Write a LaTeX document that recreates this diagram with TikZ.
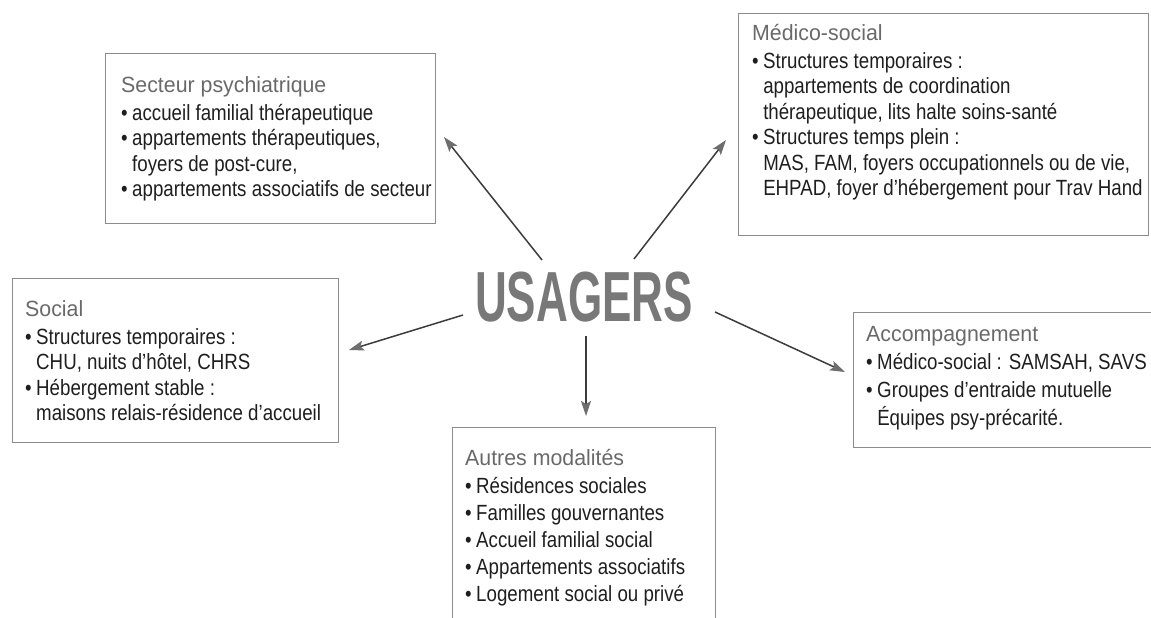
\documentclass[tikz,border=0pt]{standalone}
\usepackage{fontspec}
\setmainfont{Liberation Sans}[FakeStretch=0.85]
\newfontfamily\titlefont{Liberation Sans}[FakeStretch=0.97]
\newfontfamily\bigfont{Liberation Sans Bold}[FakeStretch=0.62]
\usetikzlibrary{arrows.meta}
\definecolor{titlegray}{RGB}{105,105,105}
\definecolor{bodyink}{RGB}{30,30,30}
\definecolor{boxline}{RGB}{140,140,140}
\definecolor{arrowline}{RGB}{60,60,60}
\definecolor{arrowhead}{RGB}{110,110,110}
\definecolor{bigink}{RGB}{120,120,120}
\newcommand{\ttl}[1]{\rule{0pt}{17pt}{\titlefont\color{titlegray}#1}}
\newcommand{\bul}{•\hspace{4.5pt}}
\newcommand{\ind}{\hphantom{•}\hspace{4.5pt}}
\tikzset{
  panel/.style={draw=boxline, line width=0.8pt, anchor=north west, inner sep=0pt, outer sep=0pt},
  paneltext/.style={anchor=north west, inner sep=0pt, align=left, text=bodyink,
    font=\fontsize{22}{25.5}\selectfont},
  link/.style={draw=arrowline, line width=1.5pt,
    -{Stealth[length=15pt,width=10pt,inset=3pt,color=arrowhead,fill=arrowhead]}},
}
\begin{document}
\begin{tikzpicture}[x=1pt,y={(0pt,-1pt)}]
\useasboundingbox (0,0) rectangle (1151,618);

% boxes
\node[panel, minimum width=330pt, minimum height=170pt] (psyBox) at (105,53) {};
\node[panel, minimum width=410pt, minimum height=222pt] (medBox) at (738,13) {};
\node[panel, minimum width=326pt, minimum height=164pt] (socBox) at (12,278) {};
\node[panel, minimum width=298pt, minimum height=135pt] (accBox) at (853,312) {};
\node[panel, minimum width=263pt, minimum height=200pt] (autBox) at (452,427) {};

% texts
\node[paneltext] (psyText) at (121,75) {\ttl{Secteur psychiatrique}\\[2.5pt]
\bul accueil familial thérapeutique\\
\bul appartements thérapeutiques,\\
\ind foyers de post-cure,\\
\bul appartements associatifs de secteur};

\node[paneltext] (medText) at (752,23) {\ttl{Médico-social}\\[2.5pt]
\bul Structures temporaires~:\\
\ind appartements de coordination\\
\ind thérapeutique, lits halte soins-santé\\
\bul Structures temps plein~:\\
\ind MAS, FAM, foyers occupationnels ou de vie,\\
\ind EHPAD, foyer d’hébergement pour Trav Hand};

\node[paneltext] (socText) at (25,299) {\ttl{Social}\\[2.5pt]
\bul Structures temporaires~:\\
\ind CHU, nuits d’hôtel, CHRS\\
\bul Hébergement stable~:\\
\ind maisons relais-résidence d’accueil};

\node[paneltext, font=\fontsize{22}{28}\selectfont] (accText) at (866,324) {\ttl{Accompagnement}\\[0pt]
\bul Médico-social~: SAMSAH, SAVS\\
\bul Groupes d’entraide mutuelle\\
\ind Équipes psy-précarité.};

\node[paneltext, font=\fontsize{22}{27}\selectfont] (autText) at (465,448) {\ttl{Autres modalités}\\[1pt]
\bul Résidences sociales\\
\bul Familles gouvernantes\\
\bul Accueil familial social\\
\bul Appartements associatifs\\
\bul Logement social ou privé};

% centre
\node[inner sep=0pt, text=bigink, font=\bigfont\fontsize{71}{71}\selectfont] (usagers) at (584,297.5) {USAGERS};

% connector ends
\coordinate (psyStart) at (542,260);
\coordinate (psyEnd) at (444,137);
\coordinate (medStart) at (634,259);
\coordinate (medEnd) at (726,140);
\coordinate (socStart) at (463,315);
\coordinate (socEnd) at (349,350);
\coordinate (accStart) at (715,312);
\coordinate (accEnd) at (845,372);
\coordinate (autStart) at (586,336);
\coordinate (autEnd) at (586,416);

\draw[link] (psyStart) -- (psyEnd);
\draw[link] (medStart) -- (medEnd);
\draw[link] (socStart) -- (socEnd);
\draw[link] (accStart) -- (accEnd);
\draw[link] (autStart) -- (autEnd);
\end{tikzpicture}
\end{document}
